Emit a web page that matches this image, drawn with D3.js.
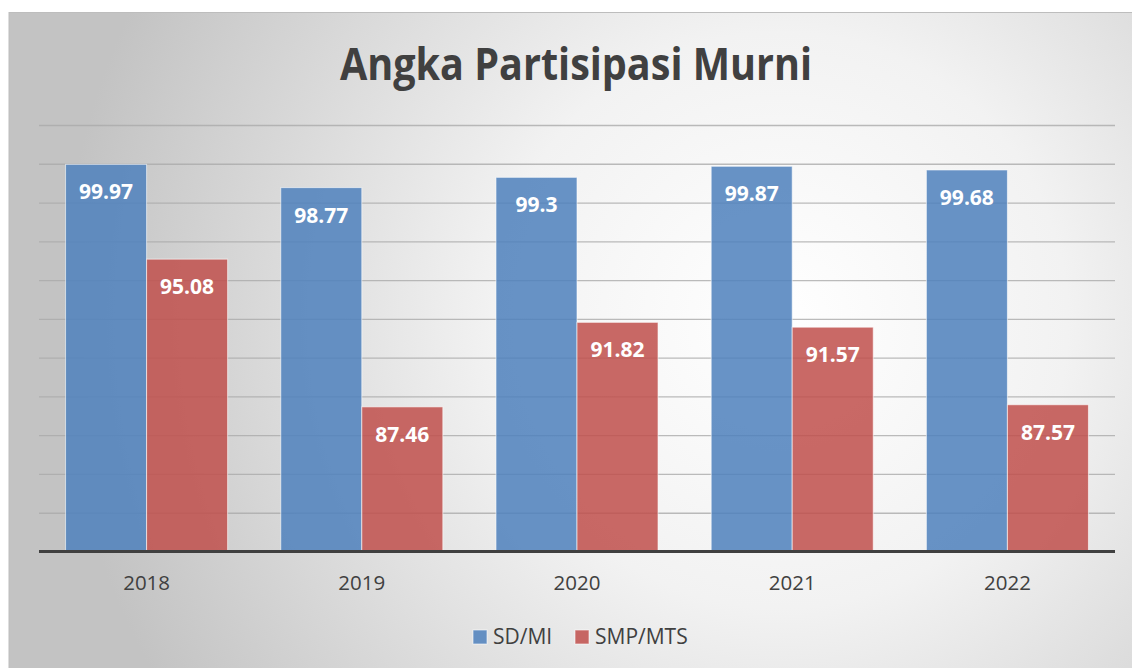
<!DOCTYPE html>
<html>
<head>
<meta charset="utf-8">
<script src="https://cdn.jsdelivr.net/npm/d3@7"></script>
<style>
  body { margin: 0; background: #fff; }
  svg { display: block; font-family: 'Open Sans', 'Noto Sans', sans-serif; }
</style>
</head>
<body>
<div class="chart"></div>
<script>
// data
const years = ['2018', '2019', '2020', '2021', '2022']
const seriesNames = ['SD/MI', 'SMP/MTS']
const sdValues = [99.97, 98.77, 99.3, 99.87, 99.68]
const smpValues = [95.08, 87.46, 91.82, 91.57, 87.57]
const yTicks = [80, 82, 84, 86, 88, 90, 92, 94, 96, 98, 100, 102]
const colors = ['#4f81bd', '#c0504d']

const W = 1132, H = 668
const plot = { left: 39, right: 1115, top: 125, bottom: 551.5 }

const svg = d3.select('.chart').append('svg').attr('width', W).attr('height', H)

// background gradient
const defs = svg.append('defs')
const grad = defs.append('radialGradient').attr('id', 'bg')
  .attr('gradientUnits', 'userSpaceOnUse')
  .attr('cx', 780).attr('cy', 320).attr('r', 720)
grad.append('stop').attr('offset', '0%').attr('stop-color', '#ffffff')
grad.append('stop').attr('offset', '40%').attr('stop-color', '#f2f2f2')
grad.append('stop').attr('offset', '100%').attr('stop-color', '#c3c3c3')

svg.append('rect').attr('x', 9).attr('y', 12.5).attr('width', W).attr('height', H)
  .attr('fill', 'url(#bg)').attr('stroke', '#bdbdbd').attr('stroke-width', 1)

// scales
const x0 = d3.scaleBand().domain(years).range([plot.left, plot.right])
  .paddingInner(0.247).paddingOuter(0.1235)
const x1 = d3.scaleBand().domain(seriesNames).range([0, x0.bandwidth()])
const y = d3.scaleLinear().domain([80, 102]).range([plot.bottom, plot.top])

// gridlines
const yAxis = d3.axisLeft(y).tickValues(yTicks).tickSize(-(plot.right - plot.left)).tickFormat('')
const grid = svg.append('g').attr('transform', `translate(${plot.left},0)`).call(yAxis)
grid.select('.domain').remove()
grid.selectAll('line').attr('stroke', '#aaaaaa').attr('stroke-width', 1.3).attr('opacity', 0.8)

// title
svg.append('text').attr('x', 576).attr('y', 80)
  .attr('text-anchor', 'middle')
  .attr('font-size', 45).attr('font-weight', 'bold').attr('fill', '#404040')
  .attr('textLength', 472).attr('lengthAdjust', 'spacingAndGlyphs')
  .text('Angka Partisipasi Murni')

// bars
const rows = years.map((yr, i) => ({ year: yr, values: [sdValues[i], smpValues[i]] }))
const groups = svg.append('g').selectAll('g').data(rows).join('g')
  .attr('transform', d => `translate(${x0(d.year)},0)`)

const bars = groups.selectAll('g').data(d => d.values.map((v, i) => ({ name: seriesNames[i], v, i })))
  .join('g')
bars.append('rect')
  .attr('x', d => x1(d.name))
  .attr('y', d => y(d.v))
  .attr('width', x1.bandwidth())
  .attr('height', d => y(80) - y(d.v))
  .attr('fill', d => colors[d.i]).attr('fill-opacity', 0.86)
  .attr('stroke', '#ffffff').attr('stroke-opacity', 0.6).attr('stroke-width', 1)
bars.append('text')
  .attr('x', d => x1(d.name) + x1.bandwidth() / 2)
  .attr('y', d => y(d.v) + 35)
  .attr('text-anchor', 'middle')
  .attr('font-size', 21).attr('font-weight', 'bold').attr('fill', '#ffffff')
  .text(d => d.v)

// x axis
svg.append('line').attr('x1', plot.left).attr('x2', plot.right)
  .attr('y1', plot.bottom).attr('y2', plot.bottom)
  .attr('stroke', '#404040').attr('stroke-width', 3)
const xAxis = d3.axisBottom(x0).tickSize(0).tickPadding(0)
const xg = svg.append('g').attr('transform', `translate(0,${plot.bottom})`).call(xAxis)
xg.select('.domain').remove()
xg.selectAll('text').attr('font-size', 20.5).attr('fill', '#404040')
  .attr('font-family', "'Open Sans', sans-serif").attr('dy', null).attr('y', 38.5)

// legend
const legendX = [473, 575]
const legend = svg.append('g').selectAll('g').data(seriesNames).join('g')
  .attr('transform', (d, i) => `translate(${legendX[i]},630)`)
legend.append('rect').attr('width', 14).attr('height', 14)
  .attr('fill', (d, i) => colors[i]).attr('fill-opacity', 0.86)
  .attr('stroke', '#ffffff').attr('stroke-opacity', 0.6)
legend.append('text').attr('x', 20).attr('y', 14)
  .attr('font-size', 21).attr('fill', '#404040')
  .text(d => d)
</script>
</body>
</html>
